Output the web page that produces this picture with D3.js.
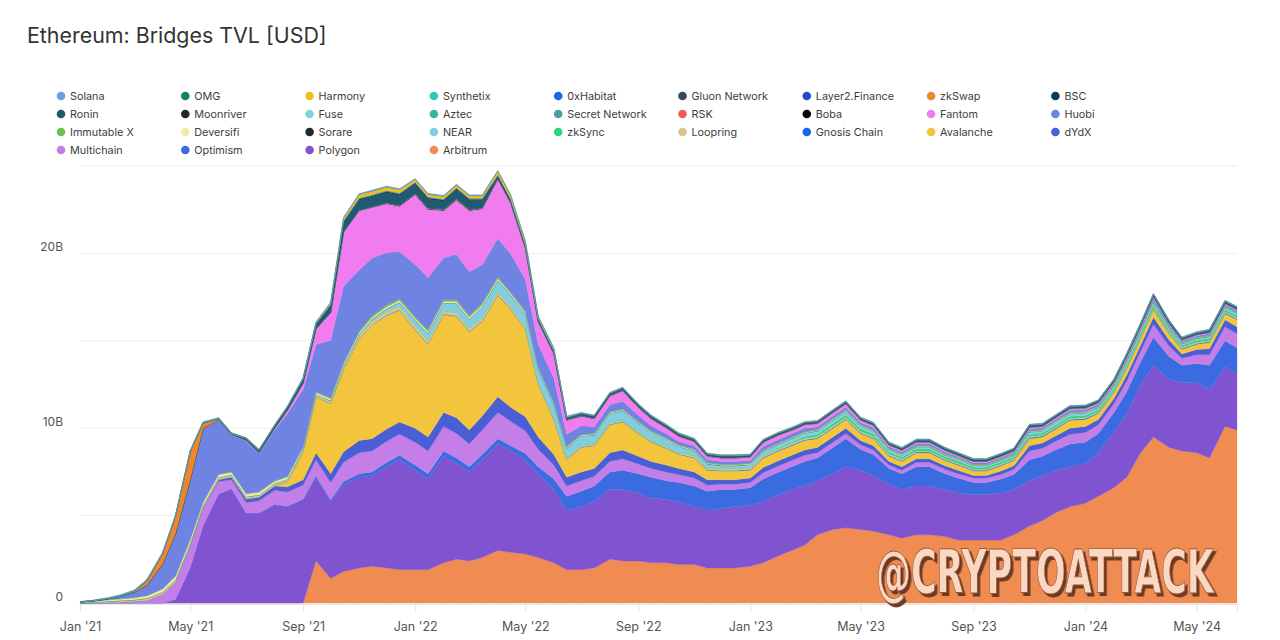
<!DOCTYPE html>
<html>
<head>
<meta charset="utf-8">
<script src="https://cdn.jsdelivr.net/npm/d3@7"></script>
<style>
body { margin: 0; background: #fff; font-family: Inter, "Noto Sans", sans-serif; }
</style>
</head>
<body>
<svg id="chart" width="1280" height="640"></svg>
<script>
// semi-monthly samples, values in billions USD
const dates = [
  "2021-01-01","2021-01-15","2021-02-01","2021-02-15","2021-03-01","2021-03-15","2021-04-01","2021-04-15","2021-05-01","2021-05-15","2021-06-01","2021-06-15",
  "2021-07-01","2021-07-15","2021-08-01","2021-08-15","2021-09-01","2021-09-15","2021-10-01","2021-10-15","2021-11-01","2021-11-15","2021-12-01","2021-12-15",
  "2022-01-01","2022-01-15","2022-02-01","2022-02-15","2022-03-01","2022-03-15","2022-04-01","2022-04-15","2022-05-01","2022-05-15","2022-06-01","2022-06-15",
  "2022-07-01","2022-07-15","2022-08-01","2022-08-15","2022-09-01","2022-09-15","2022-10-01","2022-10-15","2022-11-01","2022-11-15","2022-12-01","2022-12-15",
  "2023-01-01","2023-01-15","2023-02-01","2023-02-15","2023-03-01","2023-03-15","2023-04-01","2023-04-15","2023-05-01","2023-05-15","2023-06-01","2023-06-15",
  "2023-07-01","2023-07-15","2023-08-01","2023-08-15","2023-09-01","2023-09-15","2023-10-01","2023-10-15","2023-11-01","2023-11-15","2023-12-01","2023-12-15",
  "2024-01-01","2024-01-15","2024-02-01","2024-02-15","2024-03-01","2024-03-15","2024-04-01","2024-04-15","2024-05-01","2024-05-15","2024-06-01","2024-06-14"
];

const arbitrum = [
  0,0,0,0,0,0,0,0,0,0,0,0,
  0,0,0,0,0,2.4,1.4,1.8,2.0,2.1,2.0,1.9,
  1.9,1.9,2.3,2.5,2.4,2.6,3.0,2.9,2.8,2.6,2.3,1.9,
  1.9,2.0,2.5,2.4,2.4,2.3,2.3,2.2,2.2,2.0,2.0,2.0,
  2.1,2.3,2.7,3.0,3.3,3.9,4.2,4.3,4.2,4.1,3.9,3.7,
  3.9,3.9,3.8,3.6,3.6,3.6,3.6,3.9,4.4,4.7,5.2,5.5,
  5.7,6.1,6.6,7.2,8.6,9.5,8.9,8.7,8.6,8.3,10.1,9.9
];
const polygon = [
  0,0,0,0,0,0,0,0.2,2.0,4.4,6.2,6.5,
  5.1,5.1,5.6,5.5,5.9,4.8,4.4,5.0,5.2,5.2,5.8,6.3,
  5.7,5.2,6.1,5.5,5.1,5.6,6.1,5.8,5.4,4.8,4.2,3.4,
  3.6,3.8,4.0,4.1,3.9,3.7,3.6,3.6,3.3,3.3,3.4,3.5,
  3.5,3.5,3.5,3.5,3.4,3.1,3.2,3.5,3.4,3.2,2.9,2.8,
  2.8,2.8,2.7,2.7,2.6,2.6,2.7,2.6,2.6,2.6,2.4,2.3,
  2.3,2.5,3.2,3.6,3.9,4.1,3.9,3.9,4.0,3.9,3.4,3.2
];
const optimism = [
  0,0,0,0,0,0,0,0,0,0,0.05,0.05,
  0.05,0.05,0.05,0.05,0.05,0.1,0.1,0.15,0.2,0.2,0.25,0.25,
  0.3,0.3,0.3,0.3,0.3,0.3,0.3,0.3,0.35,0.4,0.6,0.8,
  0.9,0.9,1.0,1.1,1.1,1.2,1.1,1.1,1.2,1.1,1.1,1.0,
  1.0,1.3,1.3,1.3,1.4,1.3,1.5,1.6,1.2,1.2,0.9,0.9,
  1.1,1.1,0.9,0.85,0.7,0.7,0.8,0.85,1.2,1.1,1.2,1.3,
  1.2,1.1,1.1,1.3,1.3,1.6,1.3,1.0,1.1,1.4,1.5,1.5
];
const multichain = [
  0,0.01,0.03,0.05,0.08,0.15,0.5,1.0,1.3,1.0,0.7,0.5,
  0.6,0.7,0.8,0.8,0.8,0.9,1.0,1.1,1.2,1.2,1.2,1.2,
  1.3,1.3,1.4,1.4,1.3,1.4,1.5,1.4,1.3,1.0,0.8,0.6,
  0.6,0.55,0.6,0.65,0.55,0.5,0.5,0.45,0.45,0.35,0.3,0.3,
  0.3,0.35,0.35,0.35,0.35,0.3,0.3,0.3,0.25,0.25,0.2,0.2,
  0.25,0.25,0.25,0.25,0.25,0.25,0.25,0.3,0.5,0.45,0.5,0.55,
  0.55,0.5,0.5,0.6,0.6,0.75,0.6,0.4,0.5,0.6,0.8,0.8
];
const dydx = [
  0,0,0,0,0,0,0,0,0,0.05,0.1,0.15,
  0.2,0.2,0.25,0.3,0.3,0.4,0.5,0.6,0.7,0.7,0.7,0.7,
  0.8,0.8,0.8,0.9,0.8,0.8,0.9,0.8,0.8,0.7,0.6,0.5,
  0.5,0.45,0.5,0.5,0.45,0.4,0.4,0.35,0.35,0.3,0.25,0.25,
  0.25,0.3,0.3,0.3,0.3,0.3,0.3,0.3,0.25,0.25,0.2,0.2,
  0.2,0.2,0.2,0.2,0.15,0.15,0.2,0.2,0.3,0.3,0.3,0.35,
  0.35,0.3,0.3,0.35,0.35,0.4,0.35,0.25,0.3,0.35,0.4,0.4
];
const avalanche = [
  0,0,0,0,0,0,0,0,0,0,0,0,
  0,0,0,0.3,1.6,3.2,4.0,4.7,5.8,6.5,6.5,6.4,
  5.6,5.3,5.6,5.8,5.6,5.4,5.8,5.6,5.0,3.0,2.0,1.0,
  1.4,1.3,1.6,1.6,1.3,1.1,0.95,0.8,0.8,0.55,0.5,0.5,
  0.45,0.55,0.55,0.55,0.55,0.5,0.5,0.5,0.4,0.4,0.3,0.3,
  0.35,0.35,0.3,0.3,0.25,0.25,0.3,0.3,0.4,0.35,0.4,0.45,
  0.4,0.35,0.35,0.4,0.4,0.45,0.35,0.25,0.3,0.35,0.35,0.4
];
const gnosis = [
  0,0,0,0,0,0,0.005,0.005,0.005,0.005,0.01,0.01,
  0.01,0.01,0.01,0.01,0.01,0.01,0.02,0.02,0.02,0.02,0.02,0.02,
  0.03,0.03,0.03,0.03,0.03,0.03,0.03,0.03,0.03,0.03,0.03,0.03,
  0.03,0.03,0.03,0.03,0.03,0.03,0.03,0.03,0.03,0.03,0.03,0.03,
  0.04,0.04,0.04,0.04,0.04,0.04,0.04,0.04,0.04,0.04,0.04,0.04,
  0.04,0.04,0.04,0.04,0.04,0.04,0.04,0.04,0.05,0.05,0.05,0.05,
  0.05,0.05,0.05,0.05,0.05,0.05,0.05,0.05,0.05,0.05,0.05,0.05
];
const loopring = [
  0.02,0.03,0.05,0.07,0.08,0.1,0.1,0.1,0.1,0.1,0.1,0.1,
  0.1,0.1,0.1,0.1,0.1,0.1,0.12,0.15,0.15,0.18,0.2,0.2,
  0.2,0.2,0.18,0.18,0.18,0.18,0.18,0.15,0.12,0.1,0.1,0.08,
  0.08,0.08,0.08,0.08,0.08,0.08,0.08,0.08,0.08,0.08,0.08,0.08,
  0.08,0.08,0.08,0.08,0.08,0.08,0.08,0.08,0.08,0.08,0.08,0.08,
  0.06,0.06,0.06,0.06,0.06,0.06,0.06,0.06,0.06,0.06,0.06,0.06,
  0.06,0.06,0.06,0.06,0.06,0.06,0.06,0.06,0.06,0.06,0.06,0.06
];
const zksync = [
  0.005,0.01,0.02,0.02,0.02,0.02,0.02,0.02,0.02,0.02,0.02,0.02,
  0.02,0.02,0.02,0.02,0.02,0.02,0.02,0.02,0.02,0.02,0.02,0.02,
  0.03,0.03,0.03,0.03,0.03,0.03,0.03,0.03,0.03,0.03,0.03,0.03,
  0.04,0.04,0.04,0.04,0.04,0.04,0.04,0.04,0.04,0.04,0.04,0.04,
  0.05,0.05,0.06,0.08,0.1,0.12,0.15,0.15,0.15,0.15,0.12,0.12,
  0.12,0.12,0.12,0.12,0.12,0.12,0.12,0.12,0.12,0.12,0.12,0.12,
  0.12,0.12,0.12,0.12,0.14,0.15,0.13,0.12,0.12,0.12,0.13,0.13
];
const near = [
  0,0,0,0,0,0,0,0,0,0,0,0,
  0,0,0,0,0,0,0,0,0.05,0.1,0.15,0.2,
  0.3,0.35,0.4,0.5,0.5,0.6,0.6,0.6,0.7,0.7,0.7,0.5,
  0.5,0.45,0.5,0.5,0.45,0.4,0.35,0.3,0.25,0.2,0.15,0.15,
  0.15,0.2,0.2,0.2,0.2,0.2,0.2,0.2,0.15,0.15,0.12,0.12,
  0.12,0.12,0.1,0.1,0.1,0.1,0.1,0.1,0.15,0.12,0.15,0.15,
  0.15,0.12,0.12,0.15,0.15,0.15,0.12,0.1,0.1,0.12,0.12,0.12
];
const sorare = [
  0,0,0,0,0,0,0,0,0,0,0,0,
  0.005,0.005,0.005,0.005,0.005,0.005,0.005,0.005,0.01,0.01,0.01,0.01,
  0.01,0.01,0.01,0.01,0.01,0.01,0.01,0.01,0.01,0.01,0.01,0.01,
  0.01,0.01,0.01,0.01,0.01,0.01,0.01,0.01,0.01,0.01,0.01,0.01,
  0.01,0.01,0.01,0.01,0.01,0.01,0.01,0.01,0.01,0.01,0.01,0.01,
  0.01,0.01,0.01,0.01,0.01,0.01,0.01,0.01,0.01,0.01,0.01,0.01,
  0.01,0.01,0.01,0.01,0.01,0.01,0.01,0.01,0.01,0.01,0.01,0.01
];
const deversifi = [
  0.03,0.05,0.08,0.1,0.12,0.15,0.18,0.2,0.2,0.18,0.15,0.15,
  0.15,0.15,0.12,0.12,0.1,0.1,0.1,0.1,0.1,0.1,0.1,0.1,
  0.1,0.1,0.1,0.1,0.1,0.1,0.1,0.08,0.08,0.06,0.05,0.05,
  0.04,0.04,0.04,0.04,0.04,0.04,0.04,0.04,0.04,0.04,0.04,0.04,
  0.03,0.03,0.03,0.03,0.03,0.03,0.03,0.03,0.03,0.03,0.03,0.03,
  0.02,0.02,0.02,0.02,0.02,0.02,0.02,0.02,0.02,0.02,0.02,0.02,
  0.02,0.02,0.02,0.02,0.02,0.02,0.02,0.02,0.02,0.02,0.02,0.02
];
const immutableX = [
  0,0,0,0,0,0,0.01,0.02,0.02,0.02,0.03,0.03,
  0.03,0.03,0.04,0.04,0.05,0.05,0.06,0.08,0.1,0.1,0.1,0.1,
  0.1,0.1,0.1,0.1,0.1,0.1,0.1,0.08,0.08,0.06,0.05,0.05,
  0.04,0.04,0.04,0.04,0.04,0.04,0.04,0.04,0.04,0.04,0.04,0.04,
  0.04,0.04,0.04,0.04,0.04,0.04,0.04,0.04,0.04,0.04,0.04,0.04,
  0.04,0.04,0.04,0.04,0.04,0.04,0.04,0.04,0.04,0.04,0.04,0.04,
  0.04,0.04,0.04,0.04,0.04,0.04,0.04,0.04,0.04,0.04,0.04,0.04
];
const huobi = [
  0,0.02,0.06,0.15,0.3,0.6,1.4,2.4,3.4,4.2,3.1,2.1,
  3.0,2.2,2.9,3.6,3.3,2.7,3.3,4.4,3.5,3.3,3.0,2.7,
  3.0,3.0,2.4,2.6,2.5,2.2,2.2,2.2,1.8,1.3,1.4,0.7,
  0.5,0.4,0.4,0.45,0.35,0.3,0.25,0.2,0.2,0.15,0.15,0.15,
  0.15,0.2,0.2,0.2,0.2,0.15,0.15,0.15,0.12,0.12,0.1,0.1,
  0.1,0.1,0.1,0.08,0.08,0.08,0.08,0.08,0.1,0.1,0.1,0.12,
  0.1,0.1,0.1,0.12,0.12,0.15,0.1,0.08,0.08,0.1,0.1,0.1
];
const fantom = [
  0,0,0,0,0,0,0,0,0,0,0.02,0.03,
  0.05,0.05,0.1,0.2,0.35,0.9,1.6,3.1,3.4,2.9,2.8,2.6,
  4.0,3.9,2.7,3.1,3.5,3.2,3.4,2.9,1.8,1.3,1.4,0.8,
  0.55,0.45,0.5,0.6,0.45,0.4,0.35,0.3,0.25,0.2,0.2,0.2,
  0.2,0.25,0.25,0.2,0.2,0.2,0.2,0.2,0.15,0.15,0.1,0.1,
  0.1,0.1,0.1,0.08,0.08,0.08,0.08,0.08,0.1,0.08,0.1,0.1,
  0.1,0.08,0.08,0.1,0.1,0.1,0.08,0.06,0.06,0.06,0.06,0.06
];
const boba = [
  0,0,0,0,0,0,0,0,0,0,0,0,
  0,0,0,0,0,0,0,0,0.01,0.02,0.03,0.03,
  0.04,0.04,0.04,0.04,0.03,0.03,0.03,0.03,0.03,0.02,0.02,0.02,
  0.02,0.02,0.02,0.02,0.02,0.02,0.01,0.01,0.01,0.01,0.01,0.01,
  0.01,0.01,0.01,0.01,0.01,0.01,0.01,0.01,0.01,0.01,0.01,0.01,
  0.01,0.01,0.01,0.01,0.01,0.01,0.01,0.01,0.01,0.01,0.01,0.01,
  0.01,0.01,0.01,0.01,0.01,0.01,0.01,0.01,0.01,0.01,0.01,0.01
];
const rsk = [
  0,0,0,0,0,0,0.005,0.005,0.005,0.005,0.005,0.005,
  0.005,0.005,0.005,0.005,0.005,0.005,0.005,0.005,0.005,0.005,0.005,0.005,
  0.005,0.005,0.005,0.005,0.005,0.005,0.005,0.005,0.005,0.005,0.005,0.005,
  0.005,0.005,0.005,0.005,0.005,0.005,0.005,0.005,0.005,0.005,0.005,0.005,
  0.005,0.005,0.005,0.005,0.005,0.005,0.005,0.005,0.005,0.005,0.005,0.005,
  0.005,0.005,0.005,0.005,0.005,0.005,0.005,0.005,0.005,0.005,0.005,0.005,
  0.005,0.005,0.005,0.005,0.005,0.005,0.005,0.005,0.005,0.005,0.005,0.005
];
const secretNetwork = [
  0,0,0,0,0,0,0,0,0,0,0,0,
  0,0,0,0,0,0,0,0,0,0,0.01,0.01,
  0.02,0.02,0.02,0.02,0.02,0.02,0.02,0.02,0.015,0.01,0.01,0.01,
  0.01,0.01,0.01,0.01,0.01,0.01,0.01,0.01,0.005,0.005,0.005,0.005,
  0.005,0.005,0.005,0.005,0.005,0.005,0.005,0.005,0.005,0.005,0.005,0.005,
  0.005,0.005,0.005,0.005,0.005,0.005,0.005,0.005,0.005,0.005,0.005,0.005,
  0.005,0.005,0.005,0.005,0.005,0.005,0.005,0.005,0.005,0.005,0.005,0.005
];
const aztec = [
  0,0,0,0,0,0,0,0,0,0,0,0,
  0.002,0.002,0.002,0.002,0.002,0.002,0.003,0.003,0.003,0.003,0.003,0.003,
  0.005,0.005,0.005,0.005,0.005,0.005,0.005,0.005,0.005,0.005,0.005,0.005,
  0.005,0.005,0.005,0.005,0.005,0.005,0.005,0.005,0.005,0.005,0.005,0.005,
  0.005,0.005,0.005,0.005,0.005,0.005,0.005,0.005,0.005,0.005,0.005,0.005,
  0.003,0.003,0.003,0.003,0.003,0.003,0.003,0.003,0.003,0.003,0.003,0.003,
  0.003,0.003,0.003,0.003,0.003,0.003,0.003,0.003,0.003,0.003,0.003,0.003
];
const fuse = [
  0.003,0.003,0.003,0.003,0.003,0.003,0.005,0.005,0.005,0.005,0.005,0.005,
  0.005,0.005,0.005,0.005,0.005,0.005,0.005,0.005,0.005,0.005,0.005,0.005,
  0.005,0.005,0.005,0.005,0.005,0.005,0.005,0.005,0.005,0.005,0.005,0.005,
  0.005,0.005,0.005,0.005,0.005,0.005,0.005,0.005,0.005,0.005,0.005,0.005,
  0.005,0.005,0.005,0.005,0.005,0.005,0.005,0.005,0.005,0.005,0.005,0.005,
  0.005,0.005,0.005,0.005,0.005,0.005,0.005,0.005,0.005,0.005,0.005,0.005,
  0.005,0.005,0.005,0.005,0.005,0.005,0.005,0.005,0.005,0.005,0.005,0.005
];
const moonriver = [
  0,0,0,0,0,0,0,0,0,0,0,0,
  0,0,0,0,0,0,0,0,0.01,0.01,0.01,0.01,
  0.01,0.01,0.01,0.01,0.01,0.01,0.01,0.01,0.01,0.01,0.01,0.01,
  0.01,0.01,0.01,0.01,0.01,0.01,0.01,0.01,0.01,0.01,0.01,0.01,
  0.005,0.005,0.005,0.005,0.005,0.005,0.005,0.005,0.005,0.005,0.005,0.005,
  0.005,0.005,0.005,0.005,0.005,0.005,0.005,0.005,0.005,0.005,0.005,0.005,
  0.005,0.005,0.005,0.005,0.005,0.005,0.005,0.005,0.005,0.005,0.005,0.005
];
const ronin = [
  0,0,0,0,0,0,0,0,0,0,0,0,
  0.02,0.05,0.08,0.1,0.15,0.2,0.35,0.5,0.55,0.55,0.55,0.55,
  0.5,0.5,0.45,0.5,0.5,0.4,0.05,0.05,0.05,0.05,0.05,0.05,
  0.05,0.05,0.05,0.05,0.05,0.05,0.05,0.05,0.05,0.05,0.05,0.05,
  0.04,0.04,0.04,0.04,0.04,0.04,0.04,0.04,0.04,0.04,0.04,0.04,
  0.04,0.04,0.04,0.04,0.04,0.04,0.04,0.04,0.05,0.05,0.05,0.05,
  0.05,0.05,0.05,0.05,0.05,0.05,0.05,0.05,0.05,0.05,0.05,0.05
];
const bsc = [
  0,0,0,0,0,0,0,0,0,0,0,0,
  0.03,0.03,0.04,0.04,0.05,0.05,0.06,0.08,0.08,0.08,0.08,0.08,
  0.08,0.08,0.08,0.08,0.08,0.08,0.08,0.07,0.06,0.05,0.05,0.04,
  0.04,0.04,0.04,0.04,0.04,0.04,0.04,0.04,0.03,0.03,0.03,0.03,
  0.03,0.03,0.03,0.03,0.03,0.03,0.03,0.03,0.03,0.03,0.03,0.03,
  0.03,0.03,0.03,0.03,0.03,0.03,0.03,0.03,0.03,0.03,0.03,0.03,
  0.03,0.03,0.03,0.03,0.03,0.03,0.03,0.03,0.03,0.03,0.03,0.03
];
const zkSwap = [
  0,0,0,0.02,0.05,0.25,0.6,1.0,1.6,0.3,0.05,0.03,
  0.03,0.03,0.02,0.02,0.02,0.02,0.02,0.02,0.02,0.02,0.02,0.02,
  0.01,0.01,0.01,0.01,0.01,0.01,0.01,0.01,0.01,0.01,0.01,0.01,
  0.01,0.01,0.01,0.01,0.01,0.01,0.01,0.01,0.01,0.01,0.01,0.01,
  0.01,0.01,0.01,0.01,0.01,0.01,0.01,0.01,0.01,0.01,0.01,0.01,
  0.01,0.01,0.01,0.01,0.01,0.01,0.01,0.01,0.01,0.01,0.01,0.01,
  0.01,0.01,0.01,0.01,0.01,0.01,0.01,0.01,0.01,0.01,0.01,0.01
];
const layer2Finance = [
  0,0,0,0,0,0,0.003,0.003,0.003,0.003,0.003,0.003,
  0.003,0.003,0.003,0.003,0.003,0.003,0.003,0.003,0.003,0.003,0.003,0.003,
  0.003,0.003,0.003,0.003,0.003,0.003,0.003,0.003,0.003,0.003,0.003,0.003,
  0.002,0.002,0.002,0.002,0.002,0.002,0.002,0.002,0.002,0.002,0.002,0.002,
  0.002,0.002,0.002,0.002,0.002,0.002,0.002,0.002,0.002,0.002,0.002,0.002,
  0.002,0.002,0.002,0.002,0.002,0.002,0.002,0.002,0.002,0.002,0.002,0.002,
  0.002,0.002,0.002,0.002,0.002,0.002,0.002,0.002,0.002,0.002,0.002,0.002
];
const gluon = [
  0.003,0.003,0.003,0.003,0.003,0.003,0.003,0.003,0.003,0.003,0.003,0.003,
  0.003,0.003,0.003,0.003,0.003,0.003,0.003,0.003,0.003,0.003,0.003,0.003,
  0.003,0.003,0.003,0.003,0.003,0.003,0.003,0.003,0.003,0.003,0.003,0.003,
  0.002,0.002,0.002,0.002,0.002,0.002,0.002,0.002,0.002,0.002,0.002,0.002,
  0.002,0.002,0.002,0.002,0.002,0.002,0.002,0.002,0.002,0.002,0.002,0.002,
  0.002,0.002,0.002,0.002,0.002,0.002,0.002,0.002,0.002,0.002,0.002,0.002,
  0.002,0.002,0.002,0.002,0.002,0.002,0.002,0.002,0.002,0.002,0.002,0.002
];
const oxHabitat = [
  0,0,0,0,0,0,0,0,0,0,0,0,
  0.001,0.001,0.001,0.001,0.001,0.001,0.001,0.001,0.001,0.001,0.001,0.001,
  0.001,0.001,0.001,0.001,0.001,0.001,0.001,0.001,0.001,0.001,0.001,0.001,
  0.001,0.001,0.001,0.001,0.001,0.001,0.001,0.001,0.001,0.001,0.001,0.001,
  0.001,0.001,0.001,0.001,0.001,0.001,0.001,0.001,0.001,0.001,0.001,0.001,
  0.001,0.001,0.001,0.001,0.001,0.001,0.001,0.001,0.001,0.001,0.001,0.001,
  0.001,0.001,0.001,0.001,0.001,0.001,0.001,0.001,0.001,0.001,0.001,0.001
];
const synthetix = [
  0.01,0.02,0.04,0.05,0.06,0.06,0.05,0.05,0.05,0.05,0.04,0.04,
  0.03,0.03,0.03,0.03,0.03,0.03,0.03,0.03,0.03,0.03,0.03,0.03,
  0.03,0.03,0.03,0.03,0.03,0.03,0.03,0.03,0.03,0.03,0.03,0.03,
  0.02,0.02,0.02,0.02,0.02,0.02,0.02,0.02,0.02,0.02,0.02,0.02,
  0.02,0.02,0.02,0.02,0.02,0.02,0.02,0.02,0.02,0.02,0.02,0.02,
  0.02,0.02,0.02,0.02,0.02,0.02,0.02,0.02,0.02,0.02,0.02,0.02,
  0.02,0.02,0.02,0.02,0.02,0.02,0.02,0.02,0.02,0.02,0.02,0.02
];
const harmony = [
  0,0,0,0,0,0,0,0,0,0,0,0,
  0,0,0,0.01,0.02,0.05,0.08,0.15,0.2,0.2,0.2,0.2,
  0.15,0.15,0.15,0.15,0.15,0.15,0.2,0.2,0.15,0.1,0.1,0.01,
  0.01,0.01,0.01,0.01,0.01,0.01,0.01,0.01,0.01,0.01,0.01,0.01,
  0.01,0.01,0.01,0.01,0.01,0.01,0.01,0.01,0.01,0.01,0.01,0.01,
  0.01,0.01,0.01,0.01,0.01,0.01,0.01,0.01,0.01,0.01,0.01,0.01,
  0.01,0.01,0.01,0.01,0.01,0.01,0.01,0.01,0.01,0.01,0.01,0.01
];
const omg = [
  0.01,0.01,0.01,0.01,0.01,0.01,0.01,0.01,0.01,0.01,0.01,0.01,
  0.01,0.01,0.01,0.01,0.01,0.01,0.01,0.01,0.01,0.01,0.01,0.01,
  0.01,0.01,0.01,0.01,0.01,0.01,0.01,0.01,0.01,0.01,0.01,0.01,
  0.005,0.005,0.005,0.005,0.005,0.005,0.005,0.005,0.005,0.005,0.005,0.005,
  0.005,0.005,0.005,0.005,0.005,0.005,0.005,0.005,0.005,0.005,0.005,0.005,
  0.005,0.005,0.005,0.005,0.005,0.005,0.005,0.005,0.005,0.005,0.005,0.005,
  0.005,0.005,0.005,0.005,0.005,0.005,0.005,0.005,0.005,0.005,0.005,0.005
];
const solana = [
  0,0,0,0,0,0,0,0,0,0,0,0,
  0,0,0,0,0.01,0.02,0.03,0.04,0.05,0.05,0.05,0.05,
  0.05,0.05,0.05,0.05,0.05,0.05,0.05,0.04,0.04,0.03,0.03,0.03,
  0.02,0.02,0.02,0.02,0.02,0.02,0.02,0.02,0.02,0.02,0.02,0.02,
  0.02,0.02,0.02,0.02,0.02,0.02,0.02,0.02,0.02,0.02,0.02,0.02,
  0.02,0.02,0.02,0.02,0.02,0.02,0.02,0.02,0.02,0.02,0.02,0.02,
  0.02,0.02,0.02,0.02,0.02,0.02,0.02,0.02,0.02,0.02,0.02,0.02
];

// legend order (row by row), the stack is drawn in the reverse order
const legendNames = [
  "Solana","OMG","Harmony","Synthetix","0xHabitat","Gluon Network","Layer2.Finance","zkSwap","BSC",
  "Ronin","Moonriver","Fuse","Aztec","Secret Network","RSK","Boba","Fantom","Huobi",
  "Immutable X","Deversifi","Sorare","NEAR","zkSync","Loopring","Gnosis Chain","Avalanche","dYdX",
  "Multichain","Optimism","Polygon","Arbitrum"
];
const legendColors = [
  "#6b9de8","#12806c","#f2bd1c","#2ec8b4","#1767e6","#34495e","#2448d8","#f0862c","#0b3b5a",
  "#1f5a70","#1f2a30","#7fd4de","#33b8a4","#4d9e9c","#ef5b5b","#050505","#f07cf0","#6f84e2",
  "#6cbf4c","#f2eaa6","#1c2a2e","#80cde4","#2fd67e","#dcc48c","#1668e8","#f2c53d","#4a5ed6",
  "#c47ee8","#3b6be0","#8053d0","#f08b52"
];
const seriesValues = {
  "Solana": solana, "OMG": omg, "Harmony": harmony, "Synthetix": synthetix, "0xHabitat": oxHabitat,
  "Gluon Network": gluon, "Layer2.Finance": layer2Finance, "zkSwap": zkSwap, "BSC": bsc,
  "Ronin": ronin, "Moonriver": moonriver, "Fuse": fuse, "Aztec": aztec, "Secret Network": secretNetwork,
  "RSK": rsk, "Boba": boba, "Fantom": fantom, "Huobi": huobi, "Immutable X": immutableX,
  "Deversifi": deversifi, "Sorare": sorare, "NEAR": near, "zkSync": zksync, "Loopring": loopring,
  "Gnosis Chain": gnosis, "Avalanche": avalanche, "dYdX": dydx, "Multichain": multichain,
  "Optimism": optimism, "Polygon": polygon, "Arbitrum": arbitrum
};
const yTicks = [0, 10, 20];
const yGrid = [0, 5, 10, 15, 20, 25];

const parse = d3.timeParse("%Y-%m-%d");
const rows = dates.map((d, i) => {
  const r = { date: parse(d) };
  legendNames.forEach(n => { r[n] = seriesValues[n][i]; });
  return r;
});
legendNames.forEach(n => {
  if (seriesValues[n].length !== dates.length) console.error("length mismatch", n, seriesValues[n].length);
});

const color = d3.scaleOrdinal().domain(legendNames).range(legendColors);
const stackKeys = legendNames.slice().reverse();

const svg = d3.select("#chart");
const x = d3.scaleTime().domain([parse("2021-01-01"), parse("2024-06-14")]).range([80, 1237]);
const y = d3.scaleLinear().domain([0, 25]).range([603, 166]);

const defs = svg.append("defs");
defs.append("filter").attr("id", "wmShadow")
  .attr("x", "-10%").attr("y", "-30%").attr("width", "125%").attr("height", "170%")
  .append("feDropShadow")
  .attr("dx", 4).attr("dy", 3).attr("stdDeviation", 0.6)
  .attr("flood-color", "#6a3a24").attr("flood-opacity", 1);

svg.append("text")
  .attr("x", 27).attr("y", 43)
  .attr("font-size", 21.4).attr("fill", "#333")
  .text("Ethereum: Bridges TVL [USD]");

// grid
svg.append("g").selectAll("line").data(yGrid).enter().append("line")
  .attr("x1", 80).attr("x2", 1237)
  .attr("y1", d => y(d)).attr("y2", d => y(d))
  .attr("stroke", "#eeeeee").attr("stroke-width", 1);

svg.append("g").selectAll("text").data(yTicks).enter().append("text")
  .attr("x", 63).attr("y", d => y(d) - 2)
  .attr("text-anchor", "end").attr("font-size", 12).attr("fill", "#555")
  .text(d => d === 0 ? "0" : d + "B");

const stacked = d3.stack().keys(stackKeys)(rows);
const area = d3.area()
  .x(d => x(d.data.date))
  .y0(d => y(d[0]))
  .y1(d => y(d[1]));

svg.append("g").selectAll("path").data(stacked).enter().append("path")
  .attr("d", area)
  .attr("fill", d => color(d.key))
  .attr("stroke", d => color(d.key))
  .attr("stroke-width", 0.3);

// x axis
const xAxis = d3.axisBottom(x)
  .ticks(d3.timeMonth.every(4))
  .tickFormat(d3.timeFormat("%b '%y"))
  .tickSize(8).tickPadding(10);
const gx = svg.append("g").attr("transform", "translate(0,604)").call(xAxis);
gx.select(".domain").attr("stroke", "#e6e6e6");
gx.selectAll(".tick line").attr("stroke", "#e6e6e6");
gx.selectAll(".tick text").attr("font-size", 12.5).attr("fill", "#555")
  .attr("font-family", "Inter, 'Noto Sans', sans-serif");

// legend
const legend = svg.append("g");
const item = legend.selectAll("g").data(legendNames).enter().append("g")
  .attr("transform", (d, i) => `translate(${61 + (i % 9) * 124.3},${96 + Math.floor(i / 9) * 18})`);
item.append("circle").attr("r", 4.3).attr("fill", d => color(d));
item.append("text").attr("x", 9).attr("y", 4)
  .attr("font-size", 10.8).attr("fill", "#3d3d3d").text(d => d);

// watermark: narrow bold text, squeezed horizontally to the reference width
const wmG = svg.append("g");
const wm = wmG.append("text")
  .attr("x", 0).attr("y", 0)
  .attr("font-family", "'Liberation Sans Narrow', 'DejaVu Sans Condensed', sans-serif")
  .attr("font-weight", 700).attr("font-size", 60)
  .attr("fill", "#fbd8c3").attr("stroke", "#9a5636").attr("stroke-width", 0.8)
  .attr("filter", "url(#wmShadow)")
  .text("@CRYPTOATTACK");
const wmWidth = wm.node().getComputedTextLength();
wmG.attr("transform", `translate(876,593) scale(${338 / wmWidth},1)`);
</script>
</body>
</html>
